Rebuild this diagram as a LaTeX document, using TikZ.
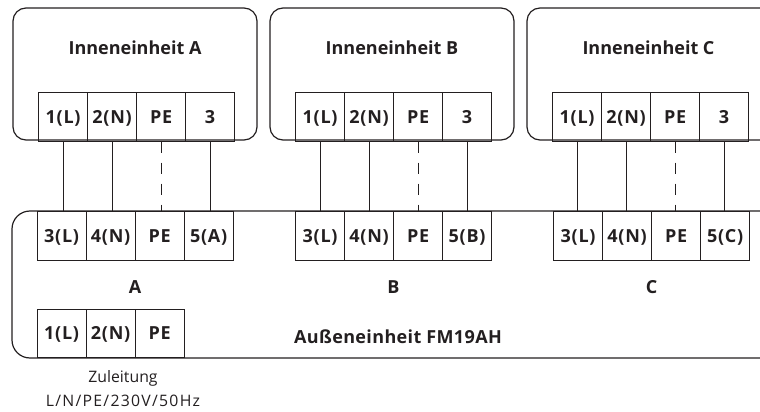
\documentclass[tikz,border=0pt]{standalone}
\usepackage{fontspec}
\setmainfont{Open Sans}
\definecolor{ink}{HTML}{231F20}
\tikzset{x=1pt,y=-1pt,
 term/.style={draw=ink,line width=1.2pt,minimum width=49pt,minimum height=48.5pt,inner sep=0pt,anchor=north west,text height=13pt,text depth=0pt,font=\fontsize{18}{22}\bfseries\addfontfeature{LetterSpace=4}\selectfont,text=ink},
 unitbox/.style={draw=ink,line width=1.2pt,rounded corners=13pt},
 outerbox/.style={draw=ink,line width=1.2pt,rounded corners=18pt},
 wire/.style={draw=ink,line width=1.2pt,xshift=-0.8pt},
 earth/.style={wire,dash pattern=on 11pt off 10pt},
 head/.style={font=\fontsize{18}{22}\bfseries\selectfont,text=ink},
 widehead/.style={font=\fontsize{18}{22}\bfseries\addfontfeature{LetterSpace=2}\selectfont,text=ink},
 note/.style={font=\fontsize{15.8}{24}\selectfont,text=ink,align=center}}
\begin{document}
\begin{tikzpicture}
\useasboundingbox (0,0) rectangle (760,412);
\draw[unitbox] (13,8) rectangle (257,140);
\draw[unitbox] (270,8) rectangle (514,140);
\draw[unitbox] (527,8) -- (774,8) -- (774,140) -- (527,140) -- cycle;
\draw[outerbox] (12,211) -- (800,211) -- (800,358) -- (12,358) -- cycle;
\node[head] (ha) at (135,48) {Inneneinheit A};
\node[head] (hb) at (392,48) {Inneneinheit B};
\node[head] (hc) at (648.5,48) {Inneneinheit C};
\foreach \u/\ix/\ox/\k in {a/38/36.5/A,b/295/295/B,c/552/553/C}{
 \node[term] (\u i1) at (\ix,92) {1(L)};
 \node[term] (\u i2) at (\ix+49,92) {2(N)};
 \node[term] (\u i3) at (\ix+98,92) {PE};
 \node[term] (\u i4) at (\ix+147,92) {3};
 \node[term] (\u o1) at (\ox,211) {3(L)};
 \node[term] (\u o2) at (\ox+49,211) {4(N)};
 \node[term] (\u o3) at (\ox+98,211) {PE};
 \node[term] (\u o4) at (\ox+147,211) {5(\k)};
 \node[head] (\u l) at (\ox+98.5,287.5) {\k};
 \path[wire] (\u i1.south) -- (\u i1.south |- \u o1.north);
 \path[wire] (\u i2.south) -- (\u i2.south |- \u o2.north);
 \path[earth] (\u i3.south) -- (\u i3.south |- \u o3.north);
 \path[wire] (\u i4.south) -- (\u i4.south |- \u o4.north);
}
\node[term] (s1) at (36.5,308.5) {1(L)};
\node[term] (s2) at (85.5,308.5) {2(N)};
\node[term] (s3) at (134.5,308.5) {PE};
\node[widehead] (out) at (398,337) {Außeneinheit FM19AH};
\node[note] (feed) at (123,389) {Zuleitung\\\addfontfeature{LetterSpace=8}L/N/PE/230V/50Hz};
\end{tikzpicture}
\end{document}
